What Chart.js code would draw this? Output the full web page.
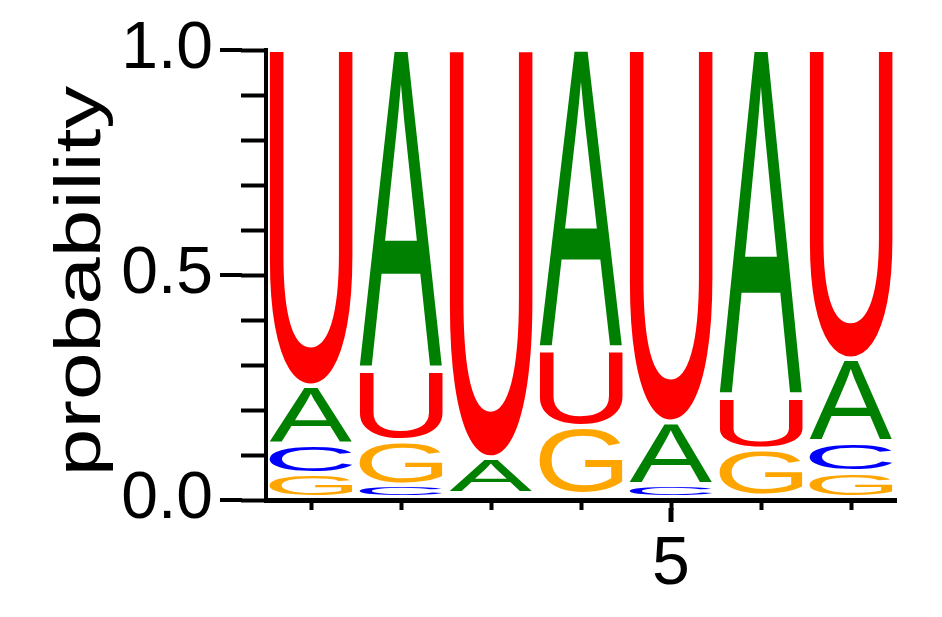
<!DOCTYPE html>
<html>
<head>
<meta charset="utf-8">
<script src="https://cdn.jsdelivr.net/npm/chart.js@4.4.1/dist/chart.umd.min.js"></script>
<style>
  html, body { margin: 0; padding: 0; background: #fff; }
  #wrap { width: 942px; height: 617px; position: relative; }
</style>
</head>
<body>
<div id="wrap"><canvas id="logo"></canvas></div>
<script>
// sequence logo data, one value per position
const positions = ["1", "2", "3", "4", "5", "6", "7"];
const probA = [0.13, 0.715, 0.08, 0.67, 0.14, 0.775, 0.185];
const probC = [0.065, 0.03, 0.01, 0.01, 0.03, 0.005, 0.065];
const probG = [0.055, 0.10, 0.0, 0.15, 0.0, 0.105, 0.06];
const probU = [0.75, 0.155, 0.91, 0.17, 0.83, 0.115, 0.69];
const yTicks = [0, 0.1, 0.2, 0.3, 0.4, 0.5, 0.6, 0.7, 0.8, 0.9, 1.0];
const yMajor = [0, 0.5, 1];
const xMajor = ["5"];

const letters = ["A", "C", "G", "U"];
const letterColors = { A: "#008000", C: "#0000ff", G: "#ffa500", U: "#ff0000" };
const probs = { A: probA, C: probC, G: probG, U: probU };
const FONT = "'Liberation Sans', Arial, Helvetica, sans-serif";

// stack letters in each column from smallest (bottom) to largest (top)
const ranges = { A: [], C: [], G: [], U: [] };
positions.forEach((p, i) => {
  const order = letters.slice().sort((a, b) => probs[a][i] - probs[b][i]);
  let acc = 0;
  order.forEach((l) => {
    ranges[l][i] = [acc, acc + probs[l][i]];
    acc += probs[l][i];
  });
});

const datasets = letters.map((l) => ({
  label: l,
  data: ranges[l],
  backgroundColor: "rgba(0,0,0,0)",
  borderWidth: 0,
  grouped: false,
  barPercentage: 0.92,
  categoryPercentage: 1.0,
}));

// draws each letter stretched into its bar box
const letterPlugin = {
  id: "letters",
  afterDatasetsDraw(chart) {
    const ctx = chart.ctx;
    chart.data.datasets.forEach((ds, di) => {
      const meta = chart.getDatasetMeta(di);
      ctx.save();
      ctx.font = "200px " + FONT;
      ctx.textBaseline = "alphabetic";
      ctx.textAlign = "left";
      const m = ctx.measureText(ds.label);
      const inkW = m.actualBoundingBoxLeft + m.actualBoundingBoxRight;
      const inkH = m.actualBoundingBoxAscent + m.actualBoundingBoxDescent;
      meta.data.forEach((el, j) => {
        const r = ds.data[j];
        if (!r || r[1] - r[0] <= 0) return;
        const p = el.getProps(["x", "y", "base", "width"], true);
        const top = Math.min(p.y, p.base) + 1;
        const bot = Math.max(p.y, p.base) - 4;
        const h = bot - top;
        if (h < 1) return; // too small to show
        const left = p.x - p.width / 2;
        ctx.save();
        ctx.translate(left, top);
        ctx.scale(p.width / inkW, h / inkH);
        ctx.fillStyle = letterColors[ds.label];
        ctx.fillText(ds.label, m.actualBoundingBoxLeft, m.actualBoundingBoxAscent);
        ctx.restore();
      });
      ctx.restore();
    });
  },
  afterDraw(chart) {
    const ctx = chart.ctx;
    const ys = chart.scales.y;
    const xs = chart.scales.x;
    ctx.save();
    ctx.strokeStyle = "#000";
    ctx.lineWidth = 4;
    // longer ticks for labelled values
    yMajor.forEach((v) => {
      const py = ys.getPixelForValue(v);
      ctx.beginPath();
      ctx.moveTo(220, py);
      ctx.lineTo(ys.right - 24, py);
      ctx.stroke();
    });
    ctx.lineWidth = 5;
    xMajor.forEach((lab) => {
      const px = xs.getPixelForValue(positions.indexOf(lab));
      ctx.beginPath();
      ctx.moveTo(px, xs.top + 8);
      ctx.lineTo(px, xs.top + 22);
      ctx.stroke();
    });
    // axis title, stretched along its length
    ctx.font = "64px " + FONT;
    ctx.fillStyle = "#000";
    ctx.textAlign = "center";
    ctx.textBaseline = "alphabetic";
    const t = "probability";
    const tm = ctx.measureText(t);
    const sx = 385 / (tm.actualBoundingBoxLeft + tm.actualBoundingBoxRight);
    ctx.translate(100, 281);
    ctx.rotate(-Math.PI / 2);
    ctx.scale(sx, 1);
    ctx.fillText(t, 0, 0);
    ctx.restore();
  },
};

new Chart(document.getElementById("logo"), {
  type: "bar",
  data: { labels: positions, datasets: datasets },
  options: {
    responsive: true,
    maintainAspectRatio: false,
    animation: false,
    devicePixelRatio: 1,
    layout: { padding: { left: 0, right: 46, top: 50, bottom: 0 } },
    plugins: { legend: { display: false }, tooltip: { enabled: false } },
    scales: {
      x: {
        type: "category",
        offset: true,
        afterFit: (s) => { s.height = 117; s.paddingLeft = 0; s.paddingRight = 0; },
        grid: { offset: false, drawOnChartArea: false, tickLength: 10, tickWidth: 4, tickColor: "#000" },
        border: { color: "#000", width: 5 },
        ticks: {
          autoSkip: false,
          maxRotation: 0,
          padding: 14,
          color: "#000",
          font: { size: 68, family: FONT },
          callback: (v, i) => (xMajor.includes(positions[i]) ? positions[i] : ""),
        },
      },
      y: {
        min: 0,
        max: 1,
        afterFit: (s) => { s.width = 266; s.paddingTop = 0; s.paddingBottom = 0; },
        afterBuildTicks: (s) => { s.ticks = yTicks.map((v) => ({ value: v })); },
        grid: { drawOnChartArea: false, tickLength: 25, tickWidth: 4, tickColor: "#000" },
        border: { color: "#000", width: 4 },
        ticks: {
          autoSkip: false,
          padding: 28,
          color: "#000",
          font: { size: 66, family: FONT },
          callback: (v) => {
            const r = Math.round(v * 10);
            return r % 5 === 0 ? (r / 10).toFixed(1) : "";
          },
        },
      },
    },
  },
  plugins: [letterPlugin],
});
</script>
</body>
</html>
